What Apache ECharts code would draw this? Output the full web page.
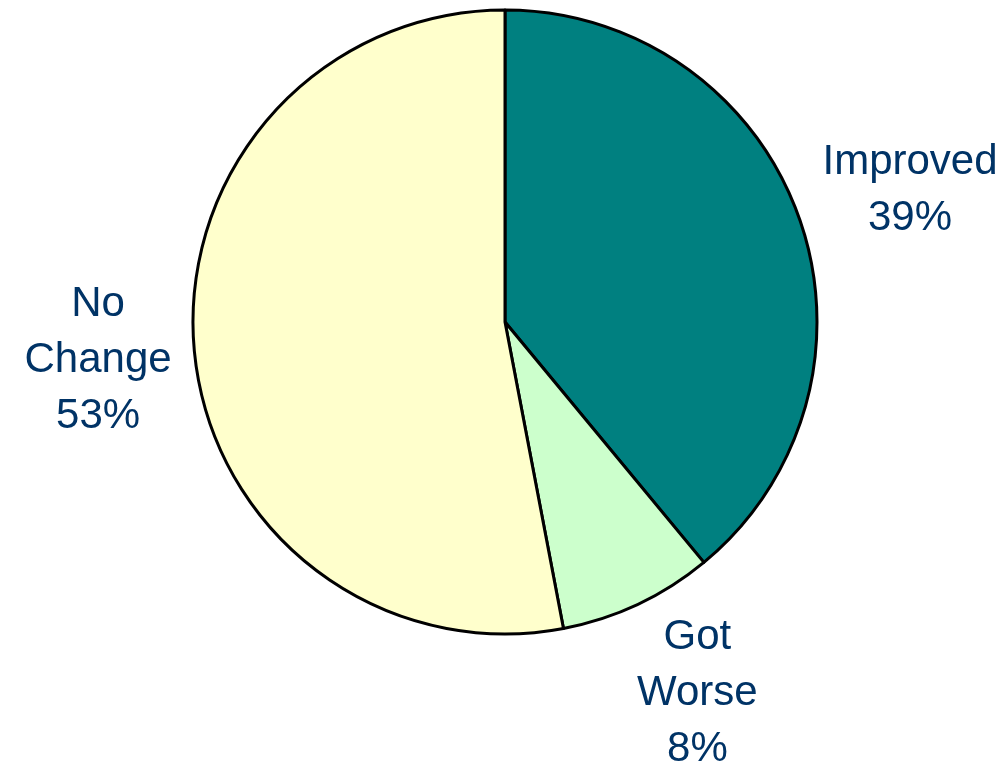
<!DOCTYPE html>
<html>
<head>
<meta charset="utf-8">
<script src="https://cdn.jsdelivr.net/npm/echarts@6/dist/echarts.min.js"></script>
<style>html,body{margin:0;padding:0;background:#fff;}#c{width:1003px;height:768px;}</style>
</head>
<body>
<div id="c"></div>
<script>
const categories = ["Improved", "Got Worse", "No Change"];
const values = [39, 8, 53];
const colors = ["#008080", "#CCFFCC", "#FFFFCC"];

const CX = 505, CY = 322, R = 312;
// label placement (style only): distance factor and angle tweak in degrees
const labelDist = [1.365, 1.34, 1.31];
const labelAngleAdj = [-1.8, 2.2, 0];

const total = values.reduce((a, b) => a + b, 0);
function midAngle(i) {
  let before = 0;
  for (let k = 0; k < i; k++) before += values[k];
  const frac = (before + values[i] / 2) / total;
  return (90 - frac * 360 + labelAngleAdj[i]) * Math.PI / 180;
}

const chart = echarts.init(document.getElementById('c'), null, {renderer: 'canvas'});
chart.setOption({
  animation: false,
  backgroundColor: '#ffffff',
  series: [{
    type: 'pie',
    center: [CX, CY],
    radius: R,
    startAngle: 90,
    clockwise: true,
    data: categories.map((c, i) => ({name: c, value: values[i], itemStyle: {color: colors[i]}})),
    itemStyle: {borderColor: '#000000', borderWidth: 3},
    label: {
      show: true,
      position: 'outside',
      formatter: p => p.name.replace(' ', '\n') + '\n' + Math.round(p.percent) + '%',
      fontFamily: 'Liberation Sans, Arial, sans-serif',
      fontSize: 42,
      lineHeight: 56,
      color: '#003366',
      align: 'center',
      overflow: 'none',
      width: 300
    },
    labelLine: {show: false},
    emphasis: {disabled: true},
    labelLayout: function (params) {
      const i = params.dataIndex;
      const a = midAngle(i);
      const d = R * labelDist[i];
      return {
        x: CX + d * Math.cos(a),
        y: CY - d * Math.sin(a),
        align: 'center',
        verticalAlign: 'middle',
        hideOverlap: false,
        moveOverlap: null
      };
    }
  }]
});
</script>
</body>
</html>
